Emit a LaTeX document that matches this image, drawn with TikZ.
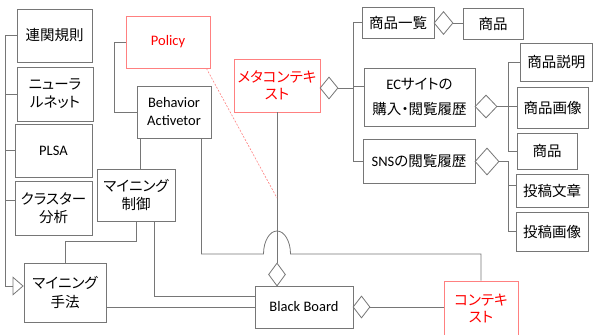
\documentclass[tikz,border=0pt]{standalone}
\usepackage{fontspec}
\setmainfont{Carlito}
\newfontfamily\jp[RawFeature=+palt]{Noto Sans CJK JP}
\usetikzlibrary{shapes.geometric,arrows.meta,calc}
\definecolor{ln}{RGB}{118,118,118}
\definecolor{rb}{RGB}{255,128,128}
\definecolor{rt}{RGB}{255,0,0}
\tikzset{
  box/.style={draw=ln, line width=0.8pt, fill=white, inner sep=0pt, align=center, text=black,
    font=\fontsize{14.5}{18}\selectfont},
  jbox/.style={box, font=\jp\fontsize{14.5}{18}\selectfont},
  redbox/.style={jbox, draw=rb, text=rt},
  agg/.style={diamond, draw=ln, fill=white, inner sep=0pt, line width=0.8pt},
  conn/.style={draw=ln, line width=0.8pt},
  hint/.style={draw=rb, line width=0.6pt, dash pattern=on 2pt off 1.5pt}
}
\begin{document}
\begin{tikzpicture}[x=1pt,y=-1pt]
\clip (0,0) rectangle (593,334);
% left column
\node[jbox,minimum width=75pt,minimum height=53pt] (rule) at (54.5,35.5) {連関規則};
\node[jbox,minimum width=76pt,minimum height=54pt] (nn) at (55,94) {ニューラ\\ルネット};
\node[box,minimum width=77pt,minimum height=53pt] (plsa) at (53.5,150.5) {PLSA};
\node[jbox,minimum width=77pt,minimum height=54pt] (cluster) at (53.5,208) {クラスター\\分析};
\node[jbox,minimum width=82pt,minimum height=59pt] (method) at (65,292.5) {マイニング\\手法};
\node[jbox,minimum width=78pt,minimum height=52pt] (control) at (136,195) {マイニング\\制御};
% middle
\node[redbox,font=\fontsize{14.5}{18}\selectfont,minimum width=84pt,minimum height=52pt] (policy) at (168,42) {Policy};
\node[box,minimum width=74pt,minimum height=52pt] (ba) at (174,112) {Behavior\\Activetor};
\node[redbox,font=\jp\fontsize{14.5}{17}\selectfont,minimum width=86pt,minimum height=53pt] (meta) at (277,85.5) {メタコンテキ\\スト};
\node[box,minimum width=98pt,minimum height=42pt] (bb) at (304,307) {Black Board};
\node[redbox,font=\jp\fontsize{14.5}{16.5}\selectfont,minimum width=74pt,minimum height=55pt] (ctx) at (481,308.5) {コンテキ\\スト};
% right
\node[jbox,minimum width=72pt,minimum height=31pt] (list) at (398,22.5) {商品一覧};
\node[jbox,minimum width=60pt,minimum height=31pt] (item1) at (493,23.5) {商品};
\node[box,font=\fontsize{14.5}{25}\selectfont,minimum width=111pt,minimum height=58pt] (ec) at (419.5,97) {EC{\jp サイトの}\\{\jp 購入・閲覧履歴}};
\node[box,minimum width=112pt,minimum height=44pt] (sns) at (419,161) {SNS{\jp の閲覧履歴}};
\node[jbox,minimum width=72.5pt,minimum height=38pt] (desc) at (556.25,62) {商品説明};
\node[jbox,minimum width=71pt,minimum height=41pt] (img) at (552.5,107.5) {商品画像};
\node[jbox,minimum width=60pt,minimum height=36pt] (item2) at (547,151) {商品};
\node[jbox,minimum width=72pt,minimum height=33pt] (post) at (552,190.5) {投稿文章};
\node[jbox,minimum width=72pt,minimum height=39pt] (pimg) at (552,231.5) {投稿画像};
% diamonds
\node[agg,minimum width=18pt,minimum height=22pt] (dmeta) at (329,88) {};
\node[agg,minimum width=19pt,minimum height=23pt] (dlist) at (443.5,23) {};
\node[agg,minimum width=22pt,minimum height=23pt] (dec) at (486,106.5) {};
\node[agg,minimum width=24pt,minimum height=27pt] (dsns) at (487,161.5) {};
\node[agg,minimum width=17pt,minimum height=23pt] (dbt) at (277,274.5) {};
\node[agg,minimum width=17pt,minimum height=22pt] (dbr) at (361.5,307) {};
% trunk coordinates
\coordinate (mt) at (353,0);
\coordinate (et) at (508,0);
% left trunk with generalization triangle
\draw[conn,-{Triangle[open,length=11pt,width=19pt]}] (rule.west) -| ($(method.west)+(-18,-6.5)$) -- ($(method.west)+(0,-6.5)$);
\draw[conn] (nn.west) -- ++(-11,0);
\draw[conn] (plsa.west) -- ++(-9,0);
\path ($(cluster.west)+(0,-8)$) coordinate (cl);
\draw[conn] (cl) -- ++(-9,0);
% policy - behavior activetor
\draw[conn] (policy.west) -| ($(ba.west)+(-22,0)$) -- (ba.west);
\path ($(ba.south west)+(4,0)$) coordinate (bc);
\draw[conn] (bc) -- (bc |- control.north);
% behavior activetor - context (with hop)
\draw[conn] ($(ba.south east)+(-10,0)$) |- (263.5,254) arc[start angle=180,end angle=0,x radius=13.5pt,y radius=23pt] -| (ctx.north);
% control - method, control - black board
\draw[conn] (control.south) -- ++(0,20) -| (method.north);
\path ($(bb.west)+(0,-11)$) coordinate (bw);
\draw[conn] ($(control.south)+(18,0)$) |- (bw);
\draw[conn] (bb.west -| method.east) -- (bb.west);
% meta context - black board
\draw[conn] (meta.south) -- (dbt.north);
\coordinate (dend) at (277,198);
\draw[hint] ($(policy.south east)+(-4,0)$) -- (dend);
% black board - context
\draw[conn] (dbr.east) -- (dbr.east -| ctx.west);
% meta context tree
\draw[conn] (dmeta.east) -- (dmeta.east -| mt);
\draw[conn] (list.west) -| (sns.west -| mt) -- (sns.west);
\path ($(ec.west)+(0,-11)$) coordinate (ecl);
\draw[conn] (ecl) -- (ecl -| mt);
\draw[conn] (dlist.east) -- (dlist.east -| item1.west);
% EC tree
\draw[conn] (dec.east) -- (dec.east -| img.west);
\draw[conn] (desc.west) -| (item2.west -| et) -- (item2.west);
% SNS tree
\draw[conn] (dsns.east) -| (pimg.west -| et) -- (pimg.west);
\path ($(post.west)+(0,-5.5)$) coordinate (pl);
\draw[conn] (pl) -- (pl -| et);
\end{tikzpicture}
\end{document}
